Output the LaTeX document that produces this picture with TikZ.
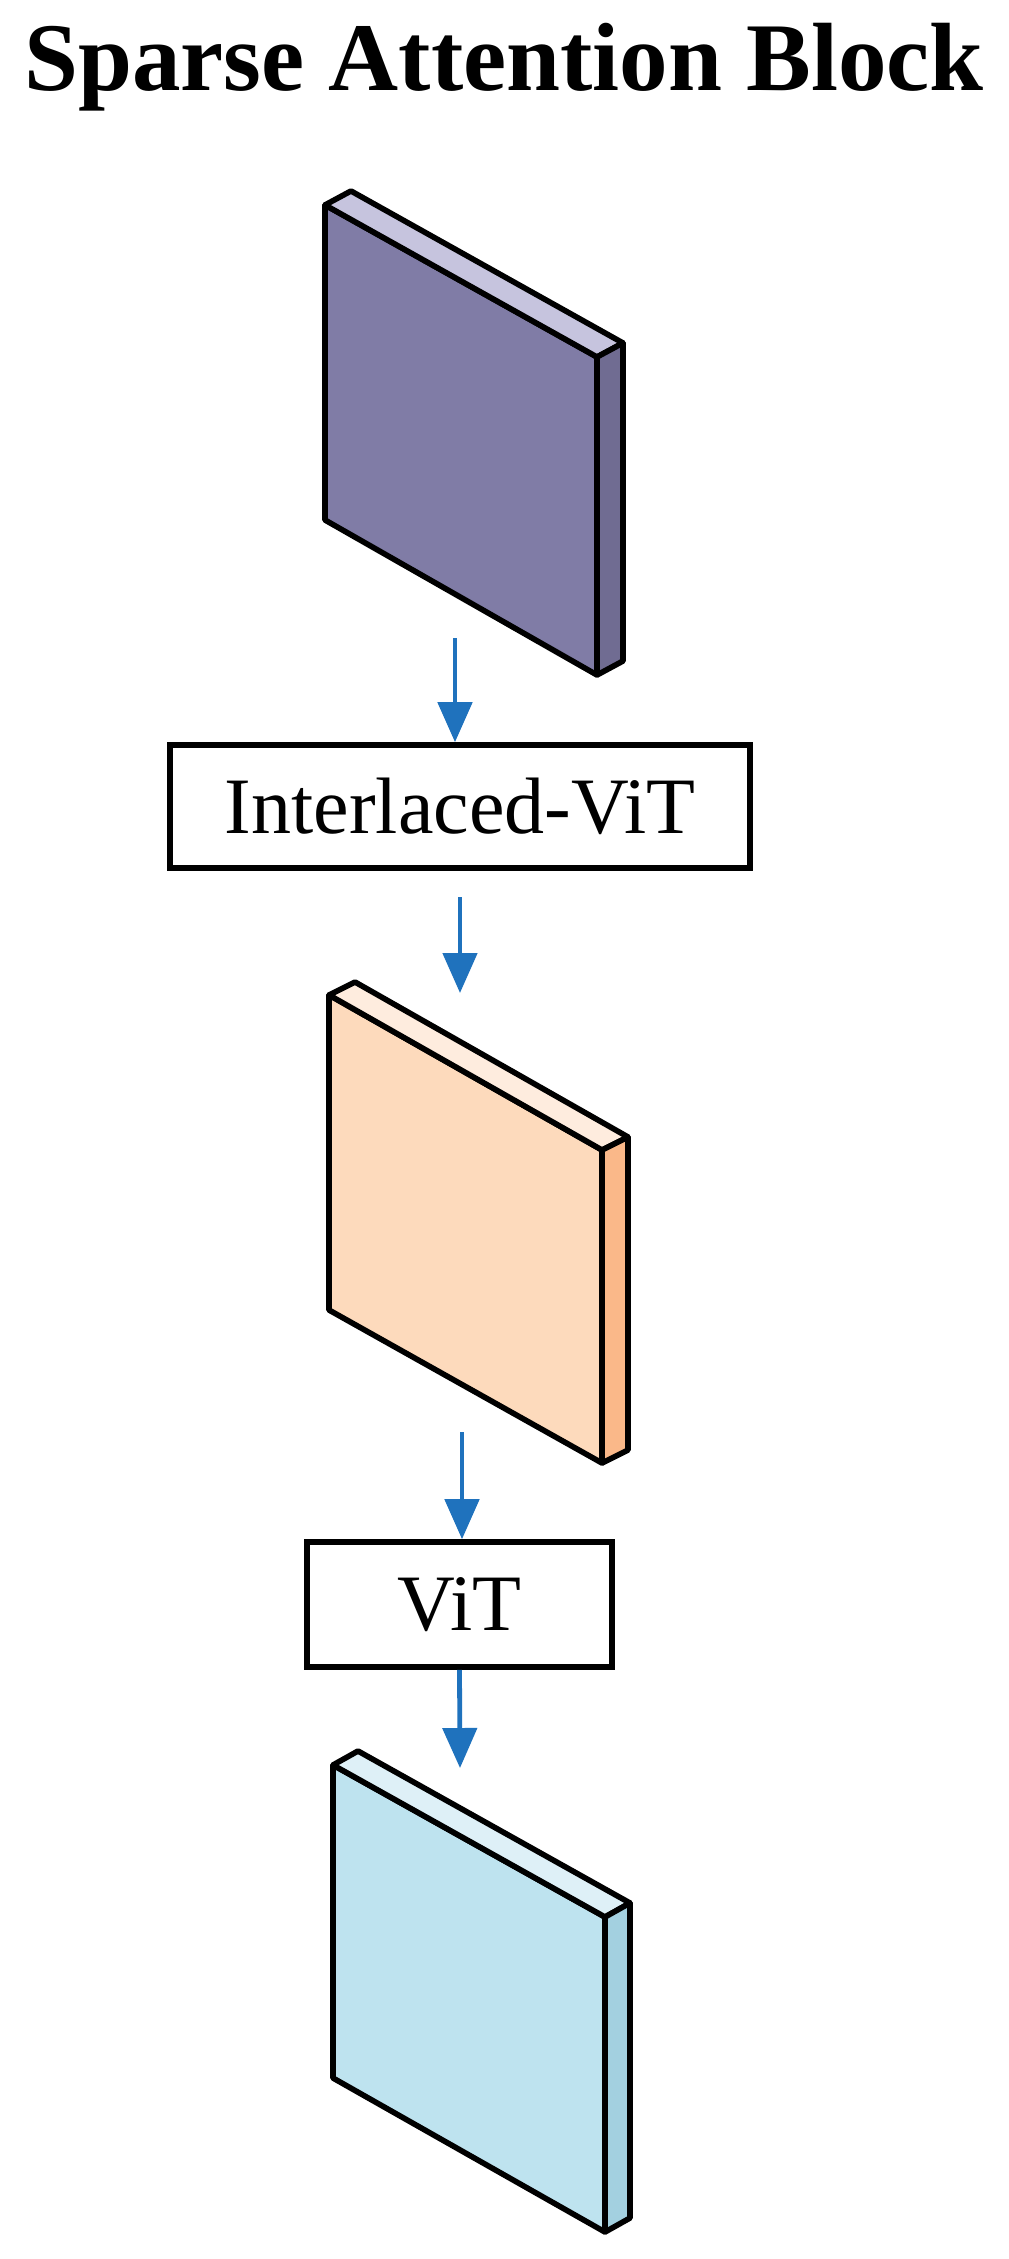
\documentclass[tikz,border=0pt]{standalone}
\usepackage{fontspec}
\setmainfont{Liberation Serif}
\usetikzlibrary{arrows.meta}
\definecolor{arrowblue}{RGB}{31,114,189}
\definecolor{sAfront}{RGB}{128,124,166}
\definecolor{sAtop}{RGB}{198,196,222}
\definecolor{sAside}{RGB}{112,108,146}
\definecolor{sBfront}{RGB}{253,218,188}
\definecolor{sBtop}{RGB}{254,236,222}
\definecolor{sBside}{RGB}{250,184,137}
\definecolor{sCfront}{RGB}{190,227,239}
\definecolor{sCtop}{RGB}{222,240,247}
\definecolor{sCside}{RGB}{163,208,224}
\begin{document}
\begin{tikzpicture}[x=0.5pt,y=-0.5pt,
  slabline/.style={draw=black,line width=2.8pt,line join=round},
  flow/.style={draw=arrowblue,line width=2.4pt,-{Triangle[length=20pt,width=17pt]}},
  box/.style={draw=black,line width=2.8pt,fill=white,inner sep=0pt,font=\fontsize{40pt}{48pt}\selectfont}]
\useasboundingbox[fill=white] (0,0) rectangle (1008,2259);

% title
\node[font=\fontsize{48.5pt}{58pt}\selectfont\bfseries,anchor=base,inner sep=0pt] (title) at (504,90) {Sparse Attention Block};

% slab 1 (purple)
\filldraw[slabline,fill=sAfront] (325,205) -- (597,357) -- (597,675) -- (325,520) -- cycle;
\filldraw[slabline,fill=sAtop] (325,205) -- (351,191) -- (623,343) -- (597,357) -- cycle;
\filldraw[slabline,fill=sAside] (597,357) -- (623,343) -- (623,661) -- (597,675) -- cycle;

% slab 2 (peach)
\filldraw[slabline,fill=sBfront] (329,995) -- (602,1150) -- (602,1463) -- (329,1310) -- cycle;
\filldraw[slabline,fill=sBtop] (329,995) -- (355,982) -- (628,1137) -- (602,1150) -- cycle;
\filldraw[slabline,fill=sBside] (602,1150) -- (628,1137) -- (628,1450) -- (602,1463) -- cycle;

% slab 3 (light blue)
\filldraw[slabline,fill=sCfront] (333,1765) -- (605,1917) -- (605,2232) -- (333,2078) -- cycle;
\filldraw[slabline,fill=sCtop] (333,1765) -- (358,1751) -- (630,1903) -- (605,1917) -- cycle;
\filldraw[slabline,fill=sCside] (605,1917) -- (630,1903) -- (630,2218) -- (605,2232) -- cycle;

% boxes
\node[box,minimum width=290pt,minimum height=61.5pt] (ivit) at (460,806.5) {Interlaced-ViT};
\node[box,minimum width=152.5pt,minimum height=62.5pt] (vit) at (459.5,1604.5) {ViT};

% arrows
\coordinate (a1s) at (455,638);
\draw[flow] (a1s) -- (a1s |- ivit.north);
\coordinate (a2s) at (460,897);
\coordinate (a2e) at (460,993);
\draw[flow] (a2s) -- (a2e);
\coordinate (a3s) at (462,1432);
\draw[flow] (a3s) -- (a3s |- vit.north);
\coordinate (a4e) at (460,1768);
\draw[flow] (vit.south) -- (a4e);
\end{tikzpicture}
\end{document}
